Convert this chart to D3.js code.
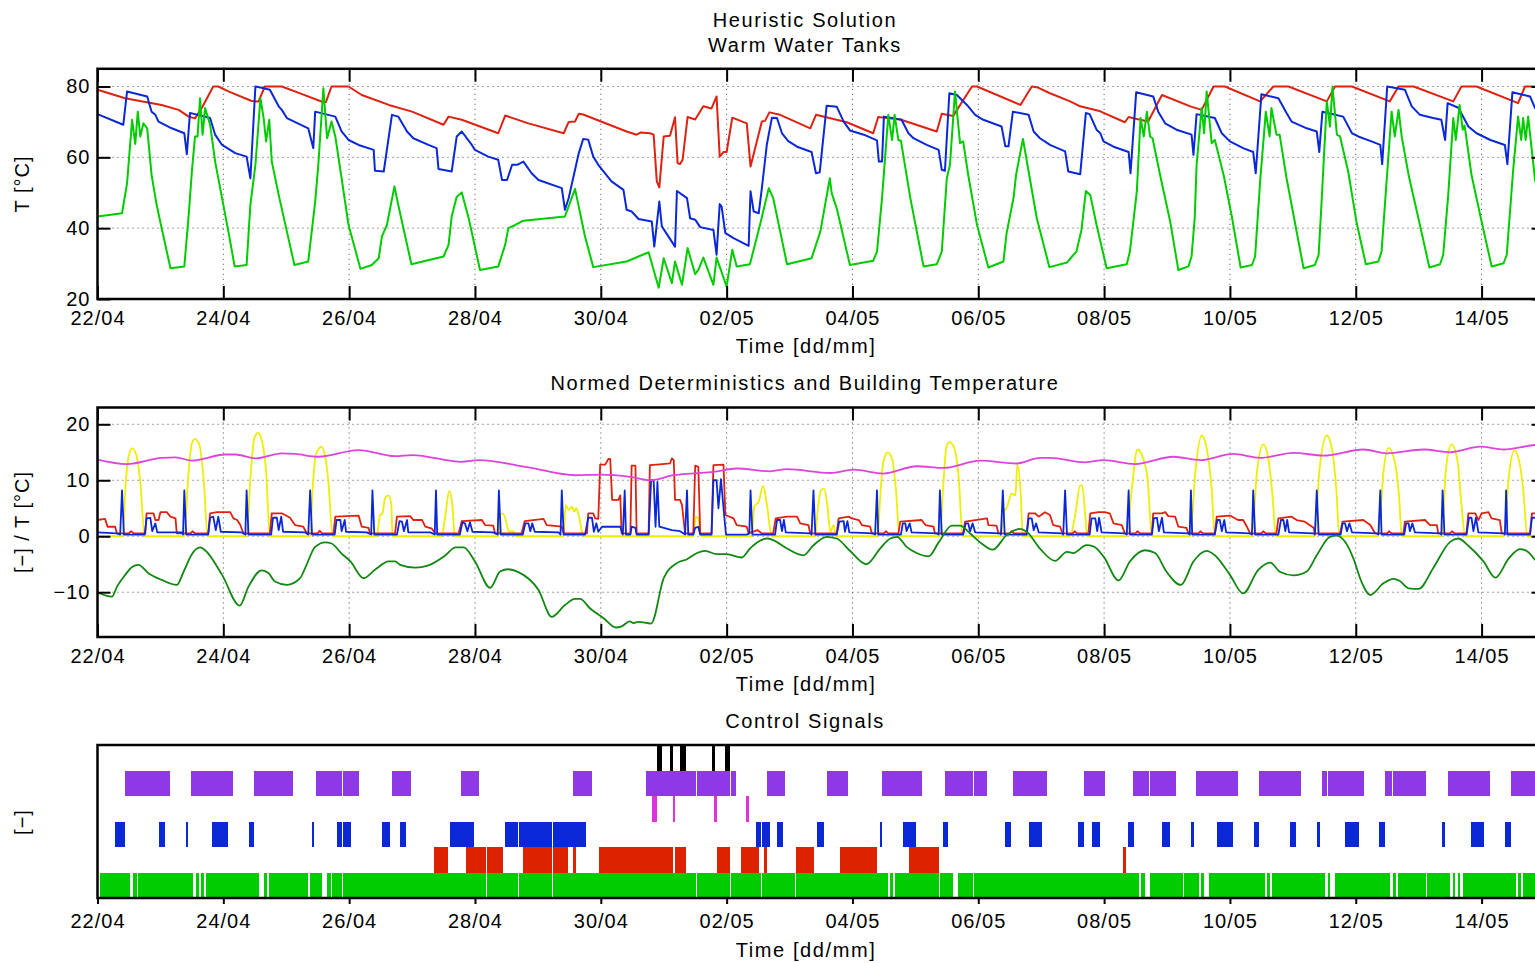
<!DOCTYPE html>
<html>
<head>
<meta charset="utf-8">
<script src="https://cdn.jsdelivr.net/npm/d3@7"></script>
<style>
  html, body { margin: 0; padding: 0; background: #fff; }
  svg { display: block; }
  text { font-family: "Liberation Sans", Arial, Helvetica, sans-serif; font-size: 20px; letter-spacing: 1px; fill: #000; }
  text.caption { letter-spacing: 1.6px; }
</style>
</head>
<body>
<svg id="chart" width="1535" height="963"></svg>
<script>
// ---- time axis: days since 22/04 00:00 ----
const xTickDays = [0, 2, 4, 6, 8, 10, 12, 14, 16, 18, 20, 22];
const xTickLabels = ["22/04", "24/04", "26/04", "28/04", "30/04", "02/05", "04/05", "06/05", "08/05", "10/05", "12/05", "14/05"];
const tankTicks = [20, 40, 60, 80];
const detTicks = [-10, 0, 10, 20];

// ---- warm water tanks: [day, °C] ----
const tankUpper = [
  [0,79.1],[0.44,76.7],[0.76,75.6],[1.02,74.8],[1.29,73.4],[1.45,71.5],[1.55,71.0],[1.66,74.0],[1.84,80],[1.92,80],
  [2.1,78.5],[2.45,75.9],[2.56,75.8],[2.66,80],[2.93,80],[3.2,78.2],[3.57,75.7],[3.63,75.6],[3.72,80],[3.99,80],
  [4.2,77.6],[4.63,74.8],[5.0,72.9],[5.5,69.2],[5.58,71.5],[5.79,70.6],[6.37,66.8],[6.48,71.8],[6.85,69.6],[7.41,66.8],
  [7.49,70.0],[7.59,70.1],[7.65,72.3],[7.72,72.1],[8.41,67.3],[8.57,66.4],[8.63,67.0],[8.78,66.8],[8.84,66.4],[8.89,53.2],
  [8.93,51.5],[9.0,65.9],[9.1,66.1],[9.18,71.3],[9.22,58.4],[9.26,58.1],[9.3,59.3],[9.38,71.4],[9.5,70.7],[9.63,74.4],
  [9.76,73.8],[9.84,77.2],[9.89,60.2],[9.95,61.5],[10.0,61.5],[10.09,71.2],[10.32,69.6],[10.38,57.4],[10.56,70.1],[10.61,70.3],
  [10.68,72.7],[10.85,72.0],[11.33,68.2],[11.42,72.0],[11.91,69.9],[12.33,66.8],[12.41,71.4],[12.76,70.7],[13.34,67.3],[13.42,72.3],
  [13.6,71.7],[13.9,80],[13.98,80],[14.67,74.8],[14.85,80],[14.95,79.7],[15.14,78.1],[15.46,75.8],[15.62,74.4],[15.94,73.0],
  [16.33,69.9],[16.39,71.4],[16.52,70.8],[16.7,70.1],[16.92,77.6],[17.37,74.4],[17.55,73.4],[17.74,80],[17.92,80],[18.48,75.8],
  [18.69,80],[18.93,80],[19.54,75.8],[19.67,80],[19.94,80],[20.54,75.8],[20.68,80],[20.92,80],[21.55,75.8],[21.68,80],
  [21.92,80],[22.58,75.3],[22.69,80],[23,80]
];
const tankMiddle = [
  [0,72.2],[0.41,69.2],[0.47,78.6],[0.79,77.2],[0.86,72.9],[0.92,72.0],[0.97,70.1],[1.18,68.2],[1.38,66.8],[1.42,60.9],
  [1.47,72.5],[1.55,72.2],[1.79,71.1],[1.87,66.4],[1.98,63.5],[2.19,61.2],[2.37,60.2],[2.43,54.1],[2.51,80],[2.59,79.7],
  [2.74,79.1],[2.88,74.4],[2.93,73.4],[3.01,71.1],[3.35,68.2],[3.43,62.6],[3.46,72.9],[3.78,71.5],[3.88,67.3],[3.99,64.9],
  [4.15,63.5],[4.39,62.1],[4.41,56.2],[4.55,56.0],[4.68,72.0],[4.78,71.5],[4.92,67.3],[5.02,65.4],[5.26,63.5],[5.39,62.6],
  [5.42,56.7],[5.63,56.0],[5.71,65.9],[5.79,67.3],[5.95,63.5],[6.0,62.1],[6.21,60.2],[6.37,59.3],[6.43,53.6],[6.51,53.6],
  [6.59,57.9],[6.67,57.9],[6.77,58.8],[6.9,55.5],[7.01,53.6],[7.38,51.3],[7.43,45.2],[7.49,48.5],[7.65,61.2],[7.72,65.2],
  [7.8,65.0],[7.88,60.2],[7.96,57.9],[8.17,53.2],[8.36,50.8],[8.41,45.2],[8.49,44.7],[8.6,42.6],[8.81,41.9],[8.85,34.8],
  [8.93,47.5],[8.97,40.5],[9.18,34.8],[9.21,50.5],[9.37,48.5],[9.42,42.8],[9.5,42.4],[9.58,40.3],[9.79,39.5],[9.84,32.5],
  [9.89,46.8],[9.92,46.1],[9.98,38.6],[10.11,37.2],[10.35,35.0],[10.38,50.4],[10.43,44.7],[10.51,44.2],[10.56,51.3],[10.64,63.7],
  [10.72,71.2],[10.8,71.1],[10.88,66.8],[10.98,64.6],[11.12,63.0],[11.35,61.5],[11.42,55.5],[11.48,55.8],[11.59,74.6],[11.75,74.3],
  [11.86,70.1],[11.96,67.6],[12.18,66.4],[12.39,64.8],[12.42,58.8],[12.47,58.8],[12.5,71.5],[12.78,70.6],[12.89,66.8],[12.97,65.4],
  [13.18,63.5],[13.37,62.1],[13.42,56.5],[13.47,56.2],[13.54,78.1],[13.66,77.6],[13.82,74.8],[13.95,72.0],[14.08,70.6],[14.37,68.7],
  [14.43,63.1],[14.48,63.1],[14.55,72.9],[14.8,72.0],[14.88,67.3],[14.98,65.4],[15.14,63.5],[15.38,61.7],[15.43,56.0],[15.62,55.2],
  [15.71,72.5],[15.77,72.2],[15.88,67.8],[15.94,66.8],[15.99,64.5],[16.15,63.0],[16.39,61.5],[16.42,55.5],[16.51,78.4],[16.78,77.2],
  [16.86,72.9],[16.97,69.6],[17.15,67.8],[17.39,66.4],[17.42,60.7],[17.47,72.2],[17.76,71.1],[17.87,66.8],[18.0,64.5],[18.21,62.6],
  [18.37,61.5],[18.41,55.5],[18.5,77.8],[18.77,76.7],[18.9,72.5],[18.98,70.1],[19.22,68.2],[19.38,67.3],[19.42,61.5],[19.47,72.9],
  [19.8,71.5],[19.94,66.8],[20.04,65.9],[20.25,64.5],[20.39,63.5],[20.42,58.1],[20.5,80],[20.78,79.1],[20.89,74.4],[21.02,72.0],
  [21.23,71.1],[21.36,70.6],[21.42,64.9],[21.46,75.3],[21.63,74.0],[21.79,68.7],[21.92,66.8],[22.14,64.9],[22.37,63.5],[22.41,58.1],
  [22.49,78.4],[22.77,77.2],[22.85,73.9],[23,71.0]
];
const tankLower = [
  [0,43.3],[0.39,44.2],[0.47,52.7],[0.55,70.6],[0.6,63.8],[0.64,72.9],[0.68,65.9],[0.73,69.6],[0.79,68.2],[0.86,55.0],
  [0.94,46.6],[1.02,40.0],[1.16,28.7],[1.38,29.2],[1.45,43.8],[1.5,56.0],[1.55,65.9],[1.59,65.9],[1.63,76.7],[1.67,66.4],
  [1.71,73.9],[1.79,69.2],[1.87,58.8],[1.98,48.5],[2.08,39.1],[2.18,29.2],[2.37,29.6],[2.43,46.6],[2.51,57.9],[2.59,76.7],
  [2.64,71.1],[2.68,64.5],[2.73,70.6],[2.77,58.8],[2.88,49.4],[3.01,39.1],[3.13,29.6],[3.35,30.6],[3.46,47.5],[3.51,57.9],
  [3.59,79.5],[3.65,65.4],[3.72,70.1],[3.78,65.9],[3.88,54.1],[3.99,40.9],[4.18,28.5],[4.36,29.6],[4.47,31.5],[4.52,37.6],
  [4.6,40.9],[4.72,51.8],[4.78,46.6],[4.99,29.8],[5.5,32.0],[5.58,35.3],[5.63,43.3],[5.71,48.9],[5.79,50.1],[5.9,42.8],
  [6.08,28.2],[6.37,29.2],[6.48,35.3],[6.53,40.0],[6.64,40.9],[6.77,42.1],[7.43,43.3],[7.59,51.1],[7.75,37.6],[7.88,29.0],
  [8.41,30.6],[8.6,32.0],[8.76,33.2],[8.92,23.2],[9.0,31.5],[9.13,24.5],[9.18,30.6],[9.29,24.0],[9.38,34.4],[9.5,27.0],
  [9.55,28.2],[9.63,31.7],[9.79,24.0],[9.84,31.7],[10.0,23.5],[10.09,33.9],[10.16,29.2],[10.37,29.8],[10.53,40.9],[10.67,51.3],
  [10.74,48.5],[10.96,29.8],[11.35,31.5],[11.49,39.1],[11.64,54.1],[11.67,49.9],[11.75,45.6],[11.96,29.6],[12.33,30.8],[12.39,33.4],
  [12.47,48.5],[12.57,72.0],[12.63,64.9],[12.67,72.0],[12.73,64.9],[12.77,64.7],[12.92,48.5],[13.13,29.2],[13.34,29.8],[13.42,33.4],
  [13.5,54.1],[13.55,57.9],[13.63,78.6],[13.71,64.0],[13.76,64.5],[13.84,55.0],[13.98,40.9],[14.16,28.9],[14.4,30.6],[14.45,38.6],
  [14.56,48.5],[14.6,55.0],[14.71,65.2],[14.8,56.0],[14.93,42.8],[15.13,29.0],[15.41,30.3],[15.49,32.0],[15.56,33.4],[15.64,39.5],
  [15.71,50.5],[15.78,49.4],[15.88,40.9],[16.04,28.7],[16.36,29.8],[16.41,33.4],[16.52,50.4],[16.58,71.1],[16.63,65.9],[16.68,72.9],
  [16.73,65.9],[16.77,65.4],[16.89,55.0],[17.05,41.9],[17.18,28.2],[17.34,29.2],[17.39,32.0],[17.44,42.8],[17.47,57.9],[17.55,73.9],
  [17.59,66.8],[17.63,78.6],[17.71,64.0],[17.76,64.9],[17.9,55.0],[18.03,43.3],[18.17,28.9],[18.35,29.6],[18.4,32.0],[18.48,53.2],
  [18.57,72.9],[18.63,65.9],[18.66,73.9],[18.74,66.4],[18.79,66.4],[18.9,54.1],[19.03,41.9],[19.17,28.7],[19.35,29.6],[19.41,32.5],
  [19.46,48.5],[19.54,75.8],[19.59,68.7],[19.63,80],[19.7,66.4],[19.75,65.9],[19.88,56.0],[20.01,41.9],[20.16,29.8],[20.36,30.6],
  [20.41,33.4],[20.49,53.2],[20.57,72.9],[20.62,65.9],[20.68,73.4],[20.73,65.9],[20.84,55.0],[21.02,40.9],[21.17,28.9],[21.34,29.8],
  [21.39,32.5],[21.47,49.4],[21.55,71.1],[21.59,64.9],[21.65,74.8],[21.7,67.8],[21.73,69.0],[21.84,55.0],[22.0,41.9],[22.16,29.2],
  [22.35,30.1],[22.4,32.5],[22.5,56.0],[22.58,71.5],[22.63,64.9],[22.66,71.1],[22.7,64.9],[22.74,71.5],[22.85,53.6],[23,43.0]
];

// ---- normed deterministics and building temperature: [day, value] ----
const detBuilding = [
  [0,13.7],[0.47,12.9],[1.02,14.0],[1.24,14.1],[1.5,13.5],[2.03,14.6],[2.19,14.6],[2.51,13.9],[2.93,14.8],[3.14,14.7],
  [3.51,14.2],[4.15,15.4],[4.73,14.3],[5.0,14.5],[5.79,13.3],[6.06,13.6],[6.85,12.3],[7.59,10.9],[7.99,11.0],[8.47,10.6],
  [8.78,10.0],[9.16,10.9],[9.42,11.2],[9.79,11.5],[10.16,12.1],[10.69,11.6],[10.96,12.0],[11.65,11.3],[12.02,11.9],[12.49,11.2],
  [13.02,12.5],[13.45,12.2],[14.03,13.5],[14.61,13.0],[14.98,14.0],[15.14,14.0],[15.7,13.2],[15.99,13.6],[16.49,12.9],[17.1,14.2],
  [17.53,13.6],[18.05,14.7],[18.48,14.0],[19.01,14.9],[19.49,14.4],[20.12,15.5],[20.49,14.8],[21.08,15.5],[21.5,15.0],[21.98,16.0],
  [22.35,15.5],[22.85,16.3],[23,16.4]
];
const detSolar = [
  [0,0],[0.40,0],[0.45,9.7],[0.50,14.5],[0.55,15.7],[0.61,14.8],[0.68,9.7],[0.75,0],
  [1.38,0],[1.44,10.3],[1.50,16.6],[1.55,17.4],[1.62,16.3],[1.69,9.7],[1.75,0],
  [2.37,0],[2.43,10.3],[2.49,17.4],[2.55,18.5],[2.61,17.2],[2.68,11.5],[2.74,0],
  [3.38,0],[3.42,8.5],[3.47,14.5],[3.56,16.0],[3.62,14.2],[3.67,9.7],[3.74,0],
  [4.44,0],[4.49,3.8],[4.53,4.1],[4.57,6.8],[4.63,7.3],[4.67,5.6],[4.69,0],
  [5.47,0],[5.53,3.8],[5.59,8.1],[5.64,5.6],[5.68,0],
  [6.37,0],[6.40,3.8],[6.44,4.1],[6.49,2.9],[6.54,0.8],[6.61,0.9],[6.65,0],
  [7.41,0],[7.44,5.6],[7.49,4.7],[7.54,5.3],[7.58,4.4],[7.61,5.0],[7.66,3.2],[7.71,0.5],[7.75,0],
  [9.47,0],[9.51,3.5],[9.55,3.2],[9.59,0],
  [10.40,0],[10.44,5.3],[10.51,6.2],[10.58,9.0],[10.64,5.6],[10.72,0],
  [11.41,0],[11.44,3.8],[11.50,8.2],[11.55,8.5],[11.60,5.6],[11.65,0.8],[11.70,2.0],[11.74,0],
  [12.40,0],[12.44,6.8],[12.49,13.3],[12.56,15.0],[12.63,13.9],[12.69,8.5],[12.75,0],
  [13.39,0],[13.44,8.5],[13.49,15.7],[13.54,16.8],[13.61,16.0],[13.69,10.3],[13.75,0],
  [14.36,0],[14.41,4.4],[14.45,5.0],[14.53,7.6],[14.59,7.3],[14.62,12.8],[14.67,8.5],[14.71,0],
  [15.46,0],[15.54,3.8],[15.62,9.1],[15.65,9.1],[15.70,3.8],[15.73,0],
  [16.36,0],[16.44,8.5],[16.53,15.5],[16.62,13.9],[16.69,10.3],[16.76,0],
  [17.37,0],[17.45,11.5],[17.55,18.0],[17.63,15.7],[17.71,8.5],[17.76,0],
  [18.35,0],[18.43,11.5],[18.53,16.4],[18.61,13.9],[18.68,6.8],[18.73,0],
  [19.35,0],[19.42,11.5],[19.54,18.0],[19.62,15.7],[19.69,8.5],[19.74,0],
  [20.36,0],[20.44,11.5],[20.52,15.8],[20.62,13.3],[20.69,6.8],[20.73,0],
  [21.37,0],[21.43,11.5],[21.52,16.4],[21.62,13.3],[21.68,5.6],[21.74,0],
  [22.36,0],[22.43,10.3],[22.52,15.4],[22.61,12.7],[22.66,8.5],[22.73,0],[23,0]
];
const detHeating = [
  [0,2.9],[0.12,3.1],[0.16,1.7],[0.28,1.7],[0.31,0.5],[0.5,0.5],[0.53,0.9],[0.58,0.5],[0.76,0.5],[0.78,4.1],
  [0.89,4.1],[0.92,2.9],[0.97,2.9],[1.0,4.3],[1.1,4.3],[1.16,3.5],[1.24,3.2],[1.26,0.5],[1.48,0.5],[1.51,0.9],
  [1.55,0.5],[1.76,0.5],[1.79,4.1],[1.9,4.3],[2.11,4.3],[2.16,3.2],[2.22,2.9],[2.27,2.0],[2.32,0.5],[2.74,0.5],
  [2.77,4.1],[2.93,4.1],[2.98,3.8],[3.06,3.3],[3.14,2.0],[3.27,1.7],[3.33,0.5],[3.5,0.5],[3.53,1.0],[3.57,0.5],
  [3.75,0.5],[3.78,3.5],[4.15,3.7],[4.2,1.7],[4.31,1.5],[4.33,0.5],[4.73,0.5],[4.76,3.5],[4.97,3.6],[5.02,2.9],
  [5.16,2.9],[5.21,1.7],[5.31,1.4],[5.37,0.5],[5.74,0.5],[5.79,2.7],[6.11,2.9],[6.16,2.0],[6.29,1.9],[6.32,0.5],
  [6.74,0.5],[6.79,2.7],[7.09,3.1],[7.14,2.0],[7.38,1.7],[7.41,0.5],[7.78,0.5],[7.8,4.1],[7.88,4.1],[7.91,3.2],
  [7.96,3.1],[7.99,12.8],[8.07,12.8],[8.12,13.8],[8.15,13.8],[8.18,6.5],[8.28,6.5],[8.31,7.3],[8.33,0.5],[8.47,0.5],
  [8.49,12.6],[8.55,12.6],[8.57,0.5],[8.76,0.5],[8.78,12.7],[8.89,12.8],[9.1,13.0],[9.13,13.9],[9.16,13.6],[9.18,6.5],
  [9.26,6.5],[9.29,5.6],[9.34,0.5],[9.47,0.5],[9.5,12.6],[9.55,12.4],[9.58,0.5],[9.76,0.5],[9.79,12.7],[9.95,12.8],
  [9.98,3.8],[10.11,3.2],[10.16,2.0],[10.32,1.7],[10.35,0.5],[10.49,1.1],[10.56,0.5],[10.74,0.5],[10.78,3.2],[10.96,3.5],
  [11.12,3.5],[11.17,2.3],[11.3,2.0],[11.33,0.5],[11.75,0.5],[11.78,3.2],[11.94,3.5],[11.99,3.2],[12.1,2.9],[12.15,2.0],
  [12.28,1.7],[12.31,0.5],[12.5,0.5],[12.53,0.9],[12.57,0.5],[12.73,0.5],[12.76,2.6],[13.1,2.9],[13.16,2.0],[13.29,1.7],
  [13.31,0.5],[13.76,0.5],[13.79,2.6],[14.14,3.2],[14.16,2.0],[14.29,1.9],[14.32,0.5],[14.5,0.5],[14.53,0.9],[14.57,0.5],
  [14.77,0.5],[14.8,4.1],[14.9,4.1],[14.96,3.5],[15.06,4.3],[15.14,3.8],[15.19,2.0],[15.3,1.7],[15.34,0.5],[15.5,0.5],
  [15.53,0.9],[15.57,0.5],[15.75,0.5],[15.78,4.1],[15.91,4.3],[16.01,4.3],[16.09,4.1],[16.15,2.3],[16.28,2.0],[16.33,0.5],
  [16.5,0.5],[16.53,0.9],[16.57,0.5],[16.76,0.5],[16.78,4.1],[16.92,4.1],[16.97,4.3],[17.02,3.6],[17.13,3.5],[17.18,1.7],
  [17.31,1.5],[17.34,0.5],[17.5,0.5],[17.53,0.9],[17.57,0.5],[17.76,0.5],[17.79,3.5],[18.0,3.7],[18.13,2.9],[18.21,2.9],
  [18.27,1.7],[18.32,0.5],[18.5,0.5],[18.53,0.9],[18.57,0.5],[18.74,0.5],[18.77,3.2],[18.98,3.5],[19.06,2.9],[19.19,2.6],
  [19.33,1.5],[19.35,0.5],[19.75,0.5],[19.79,2.6],[20.12,2.9],[20.23,2.0],[20.31,0.5],[20.5,0.5],[20.53,0.9],[20.57,0.5],
  [20.76,0.5],[20.78,2.6],[21.1,2.9],[21.18,2.0],[21.29,2.0],[21.31,0.5],[21.5,0.5],[21.53,0.9],[21.57,0.5],[21.76,0.5],
  [21.79,4.1],[21.9,4.1],[21.95,2.9],[22.0,4.1],[22.11,4.3],[22.16,3.2],[22.29,2.9],[22.32,0.5],[22.77,0.5],[22.8,4.1],
  [22.85,4.1],[23,4.1]
];
const detWater = [
  [0,0.7],[0.31,0.5],[0.36,0.3],[0.39,8.2],[0.42,0.3],[0.75,0.3],[0.78,3.2],[0.84,3.3],[0.87,0.9],[0.92,2.3],
  [0.95,0.7],[1.34,0.7],[1.36,0.3],[1.38,8.2],[1.41,0.3],[1.76,0.3],[1.79,3.3],[1.84,3.5],[1.88,1.1],[1.92,3.5],
  [1.96,0.8],[2.29,0.7],[2.35,0.3],[2.37,8.2],[2.4,0.3],[2.76,0.3],[2.79,3.3],[2.85,3.3],[2.88,1.1],[2.92,3.5],
  [2.95,0.8],[3.3,0.7],[3.35,0.3],[3.38,8.2],[3.41,0.3],[3.77,0.3],[3.8,2.9],[3.86,2.9],[3.88,0.9],[3.93,2.9],
  [3.95,0.8],[4.28,0.7],[4.35,0.3],[4.37,8.2],[4.4,0.3],[4.76,0.3],[4.8,2.7],[4.84,2.6],[4.87,0.9],[4.92,2.9],
  [4.94,0.7],[5.29,0.7],[5.36,0.3],[5.38,8.2],[5.4,0.3],[5.76,0.3],[5.8,2.5],[5.84,2.3],[5.88,0.9],[5.92,2.5],
  [5.96,0.8],[6.29,0.7],[6.36,0.3],[6.38,8.2],[6.41,0.3],[6.76,0.3],[6.8,2.3],[6.85,2.3],[6.88,0.9],[6.91,2.3],
  [6.95,0.8],[7.33,0.7],[7.36,0.3],[7.38,8.2],[7.41,0.3],[7.75,0.3],[7.8,3.3],[7.86,3.3],[7.89,0.8],[7.93,2.3],
  [7.96,0.8],[8.02,1.7],[8.31,1.7],[8.35,0.3],[8.38,8.2],[8.4,0.3],[8.47,0.3],[8.49,1.7],[8.55,1.5],[8.57,0.3],
  [8.76,0.3],[8.8,10.0],[8.84,10.0],[8.87,1.7],[8.9,9.7],[8.93,1.7],[9.13,1.1],[9.26,0.9],[9.34,0.3],[9.37,8.2],
  [9.39,0.3],[9.47,0.3],[9.5,1.5],[9.55,1.7],[9.58,0.3],[9.76,0.3],[9.79,10.0],[9.84,10.0],[9.87,5.0],[9.91,10.2],
  [9.96,3.8],[9.99,0.3],[10.32,0.3],[10.36,0.5],[10.38,8.2],[10.41,0.3],[10.77,0.3],[10.8,2.9],[10.85,2.9],[10.88,0.9],
  [10.91,2.9],[10.94,0.7],[11.33,0.5],[11.35,0.3],[11.38,8.2],[11.41,0.3],[11.75,0.3],[11.79,2.6],[11.86,2.7],[11.88,0.8],
  [11.92,2.7],[11.95,0.7],[12.33,0.5],[12.36,0.3],[12.39,8.2],[12.41,0.3],[12.77,0.3],[12.8,2.3],[12.84,2.3],[12.86,0.9],
  [12.91,2.3],[12.94,0.7],[13.34,0.5],[13.37,0.3],[13.39,8.2],[13.42,0.3],[13.76,0.3],[13.8,2.3],[13.84,2.3],[13.87,0.9],
  [13.91,2.3],[13.95,0.7],[14.35,0.5],[14.36,0.3],[14.39,8.2],[14.42,0.3],[14.77,0.3],[14.8,3.2],[14.85,3.2],[14.88,1.1],
  [14.92,2.3],[14.96,0.7],[15.33,0.5],[15.35,0.3],[15.38,8.2],[15.41,0.3],[15.77,0.3],[15.8,3.2],[15.86,3.2],[15.89,0.9],
  [15.92,3.3],[15.96,0.7],[16.33,0.5],[16.36,0.3],[16.39,8.2],[16.41,0.3],[16.76,0.3],[16.79,3.2],[16.84,3.3],[16.87,0.9],
  [16.92,3.3],[16.95,0.7],[17.34,0.5],[17.36,0.3],[17.38,8.2],[17.4,0.3],[17.76,0.3],[17.8,2.9],[17.84,2.9],[17.87,0.9],
  [17.91,2.9],[17.94,0.7],[18.32,0.5],[18.35,0.3],[18.37,8.2],[18.4,0.3],[18.77,0.3],[18.81,2.9],[18.85,2.9],[18.88,0.9],
  [18.91,2.9],[18.94,0.7],[19.33,0.5],[19.35,0.3],[19.38,8.2],[19.41,0.3],[19.76,0.3],[19.79,2.3],[19.83,2.3],[19.86,0.9],
  [19.9,2.3],[19.94,0.7],[20.33,0.5],[20.36,0.3],[20.39,8.2],[20.41,0.3],[20.77,0.3],[20.8,2.3],[20.84,2.3],[20.86,0.9],
  [20.9,2.3],[20.94,0.7],[21.34,0.5],[21.36,0.3],[21.38,8.2],[21.41,0.3],[21.76,0.3],[21.8,3.3],[21.84,3.3],[21.87,0.9],
  [21.91,3.3],[21.95,0.7],[22.35,0.5],[22.37,0.3],[22.39,8.2],[22.41,0.3],[22.77,0.3],[22.8,3.3],[22.85,3.3],[23,3.3]
];
const detOutdoor = [
  [0,-10.0],[0.23,-10.8],[0.31,-9.0],[0.44,-6.9],[0.55,-5.5],[0.65,-5.1],[0.81,-6.6],[1.02,-7.8],[1.26,-8.7],[1.37,-6.3],
  [1.5,-3.2],[1.63,-2.0],[1.71,-2.5],[1.98,-6.9],[2.26,-12.4],[2.4,-9.0],[2.61,-6.1],[2.72,-6.6],[2.82,-8.1],[3.01,-8.7],
  [3.22,-7.5],[3.3,-5.7],[3.46,-1.9],[3.62,-1.1],[3.72,-1.3],[3.88,-3.1],[4.02,-4.5],[4.23,-7.5],[4.41,-6.0],[4.63,-4.5],
  [4.73,-4.5],[4.81,-5.1],[5.05,-5.6],[5.26,-5.2],[5.53,-3.4],[5.69,-2.0],[5.82,-2.0],[6.0,-4.5],[6.24,-9.2],[6.4,-6.3],
  [6.53,-5.9],[6.69,-6.4],[7.01,-9.6],[7.22,-14.4],[7.43,-12.3],[7.59,-11.2],[7.67,-11.2],[7.83,-12.9],[8.04,-14.6],[8.24,-16.3],
  [8.33,-16.1],[8.46,-15.2],[8.52,-15.5],[8.6,-15.3],[8.8,-15.6],[9.0,-7.5],[9.21,-4.8],[9.37,-4.1],[9.53,-3.0],[9.66,-2.6],
  [9.84,-3.2],[10.0,-3.2],[10.24,-3.8],[10.37,-2.2],[10.53,-0.8],[10.64,-0.4],[10.74,-0.7],[10.96,-2.2],[11.22,-3.4],[11.38,-1.6],
  [11.59,-0.1],[11.75,-0.4],[11.96,-2.6],[12.22,-5.0],[12.44,-2.2],[12.6,-0.4],[12.71,-0.1],[12.86,-1.9],[13.02,-3.0],[13.21,-3.6],
  [13.37,-1.1],[13.58,1.9],[13.71,1.9],[13.87,0.5],[14.03,-1.1],[14.23,-2.4],[14.45,0.2],[14.66,1.3],[14.77,0.8],[14.98,-2.2],
  [15.22,-4.4],[15.41,-2.8],[15.51,-3.0],[15.72,-1.6],[15.83,-1.8],[15.99,-3.6],[16.23,-7.9],[16.41,-4.5],[16.65,-2.5],[16.81,-3.0],
  [16.99,-6.3],[17.22,-8.7],[17.42,-4.5],[17.63,-2.6],[17.76,-3.4],[18.0,-6.9],[18.21,-10.2],[18.45,-6.0],[18.64,-4.7],[18.8,-6.4],
  [19.01,-7.0],[19.22,-6.3],[19.38,-3.4],[19.59,-0.1],[19.7,0.1],[19.83,-1.0],[19.96,-3.9],[20.09,-8.1],[20.23,-10.5],[20.44,-8.4],
  [20.6,-7.6],[20.7,-8.0],[20.84,-9.3],[21.0,-9.4],[21.23,-5.7],[21.5,-1.0],[21.63,-0.4],[21.79,-1.7],[22.03,-4.5],[22.22,-7.4],
  [22.43,-4.0],[22.61,-2.3],[22.74,-2.8],[22.85,-4.2],[23,-5.0]
];

// ---- control signals: on-intervals [start day, end day] ----
const ctrlBackup = [[8.9,8.98],[9.1,9.15],[9.26,9.36],[9.77,9.82],[9.98,10.06]];
const ctrlHeatPump = [
  [0.44,1.16],[1.49,2.16],[2.49,3.11],[3.48,3.89],[3.91,4.16],[4.68,4.99],[5.78,6.07],[7.56,7.86],[8.72,9.51],[9.53,10.05],
  [10.07,10.15],[10.64,10.93],[11.6,11.93],[12.47,13.11],[13.47,13.91],[13.93,14.14],[14.55,15.1],[15.68,16.02],[16.46,16.71],[16.73,17.14],
  [17.46,18.13],[18.46,19.13],[19.46,19.54],[19.56,20.13],[20.47,20.57],[20.59,21.12],[21.47,22.13],[22.47,23]
];
const ctrlBoost = [[8.82,8.9],[9.15,9.18],[9.8,9.85],[10.31,10.36]];
const ctrlSolarPump = [
  [0.28,0.44],[0.98,1.08],[1.41,1.44],[1.82,2.08],[2.41,2.49],[3.41,3.44],[3.81,3.89],[3.91,4.03],[4.53,4.65],[4.81,4.91],
  [5.61,5.99],[6.48,6.68],[6.7,7.22],[7.24,7.77],[10.47,10.54],[10.56,10.69],[10.8,10.9],[11.44,11.55],[12.44,12.47],[12.81,13.01],
  [13.44,13.52],[14.43,14.52],[14.81,15.01],[15.59,15.68],[15.81,15.94],[16.38,16.48],[16.92,17.05],[17.38,17.43],[17.8,18.05],[18.38,18.46],
  [18.96,19.05],[19.38,19.43],[19.83,20.05],[20.37,20.47],[21.37,21.42],[21.83,22.04],[22.37,22.47]
];
const ctrlHeater = [
  [5.35,5.57],[5.86,6.17],[6.19,6.45],[6.77,7.22],[7.24,7.48],[7.56,7.61],[7.97,9.15],[9.18,9.36],[9.85,10.06],[10.23,10.52],
  [10.6,10.64],[11.1,11.39],[11.8,12.39],[12.9,13.38],[16.3,16.35]
];
const ctrlCirculation = [
  [0.04,0.52],[0.57,0.62],[0.65,1.52],[1.57,1.62],[1.65,1.7],[1.73,2.57],[2.65,2.7],[2.73,3.35],[3.37,3.57],[3.65,3.71],
  [3.73,3.89],[3.91,6.17],[6.19,6.68],[6.7,7.22],[7.24,9.51],[9.53,10.05],[10.07,10.54],[10.56,11.08],[11.1,12.57],[12.6,12.65],
  [12.68,13.37],[13.39,13.6],[13.68,13.91],[13.93,16.55],[16.59,16.65],[16.73,17.25],[17.27,17.51],[17.54,17.59],[17.67,18.56],[18.59,18.64],
  [18.67,19.51],[19.56,19.59],[19.67,20.54],[20.59,20.64],[20.67,21.11],[21.13,21.5],[21.55,21.58],[21.63,21.66],[21.71,22.55],[22.58,22.63],
  [22.66,23]
];

// ---- layout ----
const svg = d3.select("#chart");
const defs = svg.append("defs");
const plotLeft = 97.5, plotRight = 1544.5;
const x = d3.scaleLinear().domain([0, 23]).range([plotLeft, plotRight]);

const panelTank = { top: 68.8, bottom: 299 };
const panelDet = { top: 407.5, bottom: 637 };
const panelCtrl = { top: 745, bottom: 898 };

const yTank = d3.scaleLinear().domain([20, 85]).range([panelTank.bottom, panelTank.top]);
const yDet = d3.scaleLinear().domain([-18, 23]).range([panelDet.bottom, panelDet.top]);

function addClip(id, p) {
  defs.append("clipPath").attr("id", id).append("rect")
    .attr("x", plotLeft).attr("y", p.top)
    .attr("width", plotRight - plotLeft).attr("height", p.bottom - p.top);
}
addClip("clipTank", panelTank);
addClip("clipDet", panelDet);
addClip("clipCtrl", panelCtrl);

function styleTicks(g) {
  g.select(".domain").remove();
  g.selectAll(".tick line").attr("stroke", "#000").attr("stroke-width", 2);
}

// dotted grid at every tick
function gridPanel(p, yScale, yTicks) {
  const g = svg.append("g");
  g.selectAll("line.gx").data(xTickDays.filter(d => d > 0)).join("line")
    .attr("x1", d => x(d)).attr("x2", d => x(d))
    .attr("y1", p.top).attr("y2", p.bottom)
    .attr("stroke", "#444").attr("stroke-width", 1).attr("stroke-dasharray", "1,4");
  g.selectAll("line.gy").data(yTicks.filter(v => yScale(v) < p.bottom - 1 && yScale(v) > p.top + 1)).join("line")
    .attr("x1", plotLeft).attr("x2", plotRight)
    .attr("y1", d => yScale(d)).attr("y2", d => yScale(d))
    .attr("stroke", "#444").attr("stroke-width", 1).attr("stroke-dasharray", "1,4");
  return g;
}
// inward ticks on all four sides, labels on left and bottom
function axesPanel(p, yScale, yTicks) {
  svg.append("g").attr("transform", `translate(0,${p.bottom})`)
    .call(d3.axisBottom(x).tickValues(xTickDays).tickFormat((d, i) => xTickLabels[i]).tickSize(-13).tickPadding(12))
    .call(styleTicks);
  svg.append("g").attr("transform", `translate(0,${p.top})`)
    .call(d3.axisTop(x).tickValues(xTickDays).tickFormat("").tickSize(-13))
    .call(styleTicks);
  svg.append("g").attr("transform", `translate(${plotLeft},0)`)
    .call(d3.axisLeft(yScale).tickValues(yTicks).tickFormat(d3.format("d")).tickSize(-13).tickPadding(7))
    .call(styleTicks);
  svg.append("g").attr("transform", `translate(${plotRight},0)`)
    .call(d3.axisRight(yScale).tickValues(yTicks).tickFormat("").tickSize(-13))
    .call(styleTicks);
  frame(p);
}
function frame(p) {
  svg.append("rect").attr("x", plotLeft).attr("y", p.top)
    .attr("width", plotRight - plotLeft).attr("height", p.bottom - p.top)
    .attr("fill", "none").attr("stroke", "#000").attr("stroke-width", 2.5);
}
function drawLine(data, yScale, clipId, color, width, curve) {
  const line = d3.line().x(d => x(d[0])).y(d => yScale(d[1])).curve(curve || d3.curveLinear);
  svg.append("path").datum(data)
    .attr("clip-path", `url(#${clipId})`)
    .attr("fill", "none").attr("stroke", color).attr("stroke-width", width)
    .attr("stroke-linejoin", "round").attr("stroke-linecap", "round")
    .attr("d", line);
}
function label(txt, px, py, rotate) {
  const t = svg.append("text").attr("text-anchor", "middle").text(txt);
  if (rotate) t.attr("transform", `translate(${px},${py}) rotate(-90)`);
  else t.attr("class", "caption").attr("x", px).attr("y", py);
}

// ---- panel 1: warm water tanks ----
gridPanel(panelTank, yTank, tankTicks);
drawLine(tankUpper, yTank, "clipTank", "#dd2211", 2);
drawLine(tankMiddle, yTank, "clipTank", "#0b28d8", 2);
drawLine(tankLower, yTank, "clipTank", "#00cc00", 2);
axesPanel(panelTank, yTank, tankTicks);
label("Heuristic Solution", 805, 27);
label("Warm Water Tanks", 805, 52);
label("Time [dd/mm]", 806, 353);
label("T [°C]", 29, 184, true);

// ---- panel 2: normed deterministics and building temperature ----
gridPanel(panelDet, yDet, detTicks);
drawLine(detSolar, yDet, "clipDet", "#eeee00", 1.8, d3.curveMonotoneX);
drawLine(detHeating, yDet, "clipDet", "#dd2211", 1.8);
drawLine(detWater, yDet, "clipDet", "#0b28d8", 1.8);
drawLine(detBuilding, yDet, "clipDet", "#dd44dd", 1.8, d3.curveMonotoneX);
drawLine(detOutdoor, yDet, "clipDet", "#118811", 1.8, d3.curveMonotoneX);
axesPanel(panelDet, yDet, detTicks);
label("Normed Deterministics and Building Temperature", 805, 390);
label("Time [dd/mm]", 806, 691);
label("[\u2212] / T [°C]", 29, 522, true);

// ---- panel 3: control signals ----
const ctrlSeries = [
  { spans: ctrlBackup, color: "#000000" },
  { spans: ctrlHeatPump, color: "#8e38e8" },
  { spans: ctrlBoost, color: "#dd33dd" },
  { spans: ctrlSolarPump, color: "#0a28d6" },
  { spans: ctrlHeater, color: "#dd2200" },
  { spans: ctrlCirculation, color: "#00cc00" }
];
const yCtrl = d3.scaleBand().domain(d3.range(ctrlSeries.length)).range([panelCtrl.top, panelCtrl.bottom]).padding(0);
const ctrlG = svg.append("g").attr("clip-path", "url(#clipCtrl)");
ctrlSeries.forEach((s, row) => {
  ctrlG.append("g").selectAll("rect").data(s.spans).join("rect")
    .attr("x", d => x(d[0])).attr("width", d => x(d[1]) - x(d[0]))
    .attr("y", yCtrl(row)).attr("height", yCtrl.bandwidth())
    .attr("fill", s.color).attr("shape-rendering", "crispEdges");
});
svg.append("g").attr("transform", `translate(0,${panelCtrl.bottom})`)
  .call(d3.axisBottom(x).tickValues(xTickDays).tickFormat((d, i) => xTickLabels[i]).tickSize(6).tickPadding(10))
  .call(styleTicks);
frame(panelCtrl);
label("Control Signals", 805, 728);
label("Time [dd/mm]", 806, 957);
label("[\u2212]", 29, 822, true);
</script>
</body>
</html>
